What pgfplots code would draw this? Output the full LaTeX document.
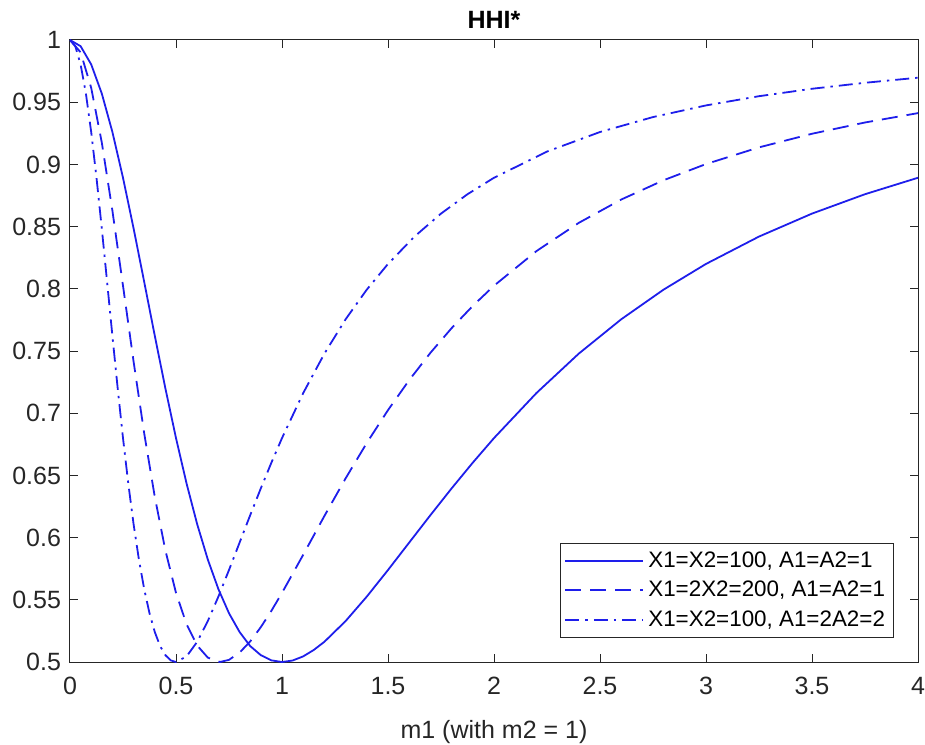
\documentclass[border=0pt]{standalone}
\usepackage{pgfplots}
\pgfplotsset{compat=1.18}
\usepackage{fontspec}
\setmainfont{Liberation Sans}
\definecolor{mblue}{RGB}{30,30,235}
\definecolor{axgray}{RGB}{38,38,38}
\begin{document}
\begin{tikzpicture}
\begin{axis}[
  name=ax,
  scale only axis,
  width=424pt, height=311pt,
  xmin=0, xmax=4, ymin=0.5, ymax=1,
  xtick={0,0.5,...,4},
  ytick={0.5,0.55,...,1.01},
  yticklabels={0.5,0.55,0.6,0.65,0.7,0.75,0.8,0.85,0.9,0.95,1},
  xticklabels={0,0.5,1,1.5,2,2.5,3,3.5,4},
  tick align=inside,
  tick pos=both,
  major tick length=4pt,
  axis line style={axgray, line width=0.5pt},
  tick style={axgray, line width=0.5pt},
  ticklabel style={font=\fontsize{12.5}{14}\selectfont, text=axgray},
  xticklabel style={yshift=-4pt},
  yticklabel style={xshift=-1pt},
  /pgf/number format/assume math mode=true,
  title={\textbf{HHI*}},
  title style={font=\fontsize{12.5}{14}\selectfont, yshift=-4pt},
  xlabel={m1 (with m2 = 1)},
  xlabel style={font=\fontsize{12.5}{14}\selectfont, text=axgray, yshift=-6pt},
  legend style={at={(0.971,0.039)}, anchor=south east, draw=axgray,
    font=\fontsize{11.2}{13}\selectfont, inner xsep=2pt, inner ysep=2pt,
    row sep=1.5pt},
  legend cell align=left,
  legend image code/.code={\draw[#1] (0pt,0pt) -- (39pt,0pt);},
]
\addlegendimage{mblue, line width=0.9pt}
\addlegendentry{X1=X2=100, A1=A2=1}
\addlegendimage{mblue, line width=0.9pt, dash pattern=on 8pt off 4.5pt}
\addlegendentry{X1=2X2=200, A1=A2=1}
\addlegendimage{mblue, line width=0.9pt, dash pattern=on 7pt off 3pt on 1.2pt off 3pt}
\addlegendentry{X1=X2=100, A1=2A2=2}
\addplot[forget plot, mblue, line width=0.9pt, line join=round, no markers] coordinates {
(0,1) (0.05,0.99502) (0.1,0.98039) (0.15,0.95696) (0.2,0.92604) (0.25,0.88927)
(0.3,0.84850) (0.35,0.80556) (0.4,0.76219) (0.45,0.71992) (0.5,0.68)
(0.55,0.64339) (0.6,0.61073) (0.65,0.58241) (0.7,0.55858) (0.75,0.5392)
(0.8,0.52409) (0.85,0.51281) (0.9,0.50551) (0.95,0.50131) (1.0,0.5)
(1.05,0.50119) (1.1,0.50452) (1.15,0.50970) (1.2,0.51626) (1.3,0.53290) (1.4,0.55259)
(1.5,0.57396) (1.6,0.59601) (1.7,0.61803) (1.8,0.63955) (1.9,0.66027)
(2.0,0.68) (2.2,0.71618) (2.4,0.74791) (2.6,0.77548) (2.8,0.79935)
(3.0,0.82) (3.25,0.84199) (3.5,0.86045) (3.75,0.87604) (4.0,0.88927)
};
\addplot[forget plot, mblue, line width=0.9pt, line join=round, no markers, dash pattern=on 8pt off 4.5pt] coordinates {
(0,1) (0.05,0.99010) (0.1,0.96155) (0.15,0.91758) (0.2,0.86283) (0.25,0.80247)
(0.3,0.74145) (0.35,0.68388) (0.4,0.63269) (0.45,0.58967) (0.5,0.55556)
(0.55,0.53028) (0.6,0.51325) (0.65,0.50353) (0.7071,0.5) (0.75,0.50173)
(0.8,0.50754) (0.85,0.51656) (0.9,0.52800) (0.95,0.54118) (1.0,0.55556)
(1.1,0.58620) (1.2,0.61739) (1.3,0.64763) (1.4,0.67612) (1.5,0.70248)
(1.6,0.72660) (1.7,0.74852) (1.8,0.76837) (1.9,0.78629) (2.0,0.80247)
(2.2,0.83027) (2.4,0.85302) (2.6,0.87175) (2.8,0.88728) (3.0,0.90028)
(3.25,0.91369) (3.5,0.92464) (3.75,0.93369) (4.0,0.94123)
};
\addplot[forget plot, mblue, line width=0.9pt, line join=round, no markers, dash pattern=on 7pt off 3pt on 1.2pt off 3pt] coordinates {
(0,1) (0.025,0.99502) (0.05,0.98039) (0.075,0.95696) (0.1,0.92604) (0.125,0.88927)
(0.15,0.84850) (0.175,0.80556) (0.2,0.76219) (0.225,0.71992) (0.25,0.68)
(0.275,0.64339) (0.3,0.61073) (0.325,0.58241) (0.35,0.55858) (0.375,0.5392)
(0.4,0.52409) (0.425,0.51281) (0.45,0.50551) (0.475,0.50131) (0.5,0.5)
(0.55,0.50452) (0.6,0.51626) (0.65,0.53290) (0.7,0.55259) (0.75,0.57396)
(0.8,0.59601) (0.85,0.61803) (0.9,0.63955) (0.95,0.66027) (1.0,0.68)
(1.1,0.71618) (1.2,0.74791) (1.3,0.77548) (1.4,0.79935) (1.5,0.82)
(1.625,0.84199) (1.75,0.86045) (1.875,0.87604) (2.0,0.88927) (2.25,0.91031)
(2.5,0.92604) (2.75,0.93805) (3.0,0.94741) (3.25,0.95483) (3.5,0.9608)
(3.75,0.96561) (4.0,0.96970)
};
\end{axis}
\pgfresetboundingbox
\path[use as bounding box] ([xshift=-35pt,yshift=-41pt]ax.south west) rectangle ([xshift=3.5pt,yshift=20pt]ax.north east);
\end{tikzpicture}
\end{document}
